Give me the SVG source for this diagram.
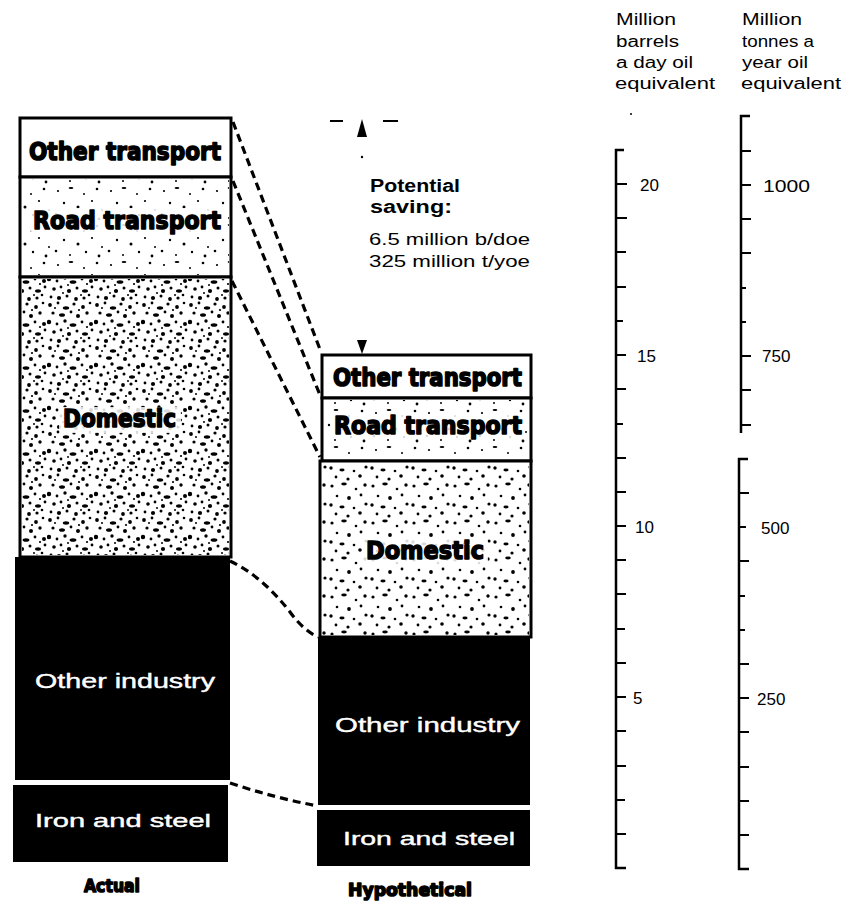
<svg xmlns="http://www.w3.org/2000/svg" width="846" height="916" viewBox="0 0 846 916">
<style>
.heavy{font-family:"DejaVu Sans","Liberation Sans",sans-serif;font-weight:bold;fill:#000;stroke:#000;stroke-width:1.6;stroke-linejoin:round}
.wt{font-family:"Liberation Sans","DejaVu Sans",sans-serif;fill:#fff;stroke:#fff;stroke-width:0.4}
.lbl{font-family:"Liberation Sans","DejaVu Sans",sans-serif;fill:#000}
.lblb{font-family:"Liberation Sans","DejaVu Sans",sans-serif;font-weight:bold;fill:#000}
.box{fill:#fff;stroke:#000;stroke-width:3}
.blk{fill:#000}
.halo{fill:#fff;opacity:0.85}
.dash{fill:none;stroke:#000;stroke-width:3.2;stroke-dasharray:8 5}
.axis{fill:none;stroke:#000;stroke-width:2.5}
.tick{stroke:#000;stroke-width:2}
</style>
<defs>
<pattern id="stipHeavy" width="47" height="43" patternUnits="userSpaceOnUse">
<g fill="#000">
<circle cx="3" cy="4" r="1.9"/><circle cx="11" cy="2" r="1.4"/><ellipse cx="19" cy="7" rx="3.2" ry="1.7"/><circle cx="27" cy="3" r="1.6"/><circle cx="36" cy="6" r="1.9"/><circle cx="43" cy="2" r="1.3"/>
<circle cx="6" cy="12" r="1.6"/><ellipse cx="15" cy="14" rx="3" ry="1.8"/><circle cx="24" cy="11" r="1.4"/><circle cx="31" cy="15" r="2"/><circle cx="40" cy="12" r="1.7"/>
<circle cx="2" cy="21" r="2.2"/><circle cx="10" cy="23" r="1.4"/><circle cx="18" cy="20" r="1.7"/><ellipse cx="26" cy="24" rx="3.4" ry="1.8"/><circle cx="35" cy="21" r="1.4"/><circle cx="44" cy="23" r="2"/>
<circle cx="7" cy="31" r="1.8"/><circle cx="14" cy="29" r="1.4"/><circle cx="22" cy="33" r="2.1"/><circle cx="30" cy="30" r="1.5"/><ellipse cx="38" cy="33" rx="3" ry="1.7"/><circle cx="45" cy="29" r="1.4"/>
<circle cx="4" cy="39" r="1.4"/><circle cx="12" cy="40" r="2.1"/><circle cx="20" cy="38" r="1.5"/><circle cx="29" cy="41" r="1.9"/><circle cx="37" cy="40" r="1.6"/><circle cx="42" cy="37" r="1.3"/>
<circle cx="8" cy="7" r="1"/><circle cx="32" cy="9" r="1.1"/><circle cx="21" cy="27" r="1"/><circle cx="40" cy="26" r="1.1"/><circle cx="16" cy="35" r="1"/><circle cx="34" cy="37" r="1"/>
</g>
</pattern>
<pattern id="stipMid" width="41" height="37" patternUnits="userSpaceOnUse">
<g fill="#000">
<circle cx="4" cy="5" r="1.6"/><ellipse cx="16" cy="3" rx="2.8" ry="1.4"/><circle cx="28" cy="8" r="1.3"/><circle cx="37" cy="4" r="1.7"/>
<circle cx="9" cy="15" r="1.3"/><circle cx="21" cy="17" r="1.9"/><circle cx="33" cy="14" r="1.4"/>
<circle cx="3" cy="24" r="1.7"/><ellipse cx="14" cy="26" rx="2.6" ry="1.4"/><circle cx="26" cy="27" r="1.3"/><circle cx="38" cy="23" r="1.6"/>
<circle cx="8" cy="33" r="1.4"/><circle cx="20" cy="35" r="1.6"/><circle cx="32" cy="32" r="1.8"/>
</g>
</pattern>
<pattern id="stipLight" width="53" height="37" patternUnits="userSpaceOnUse">
<g fill="#000">
<circle cx="5" cy="6" r="1.1"/><ellipse cx="18" cy="3" rx="2.4" ry="1.1"/><circle cx="31" cy="9" r="1"/><circle cx="44" cy="4" r="1.3"/>
<circle cx="11" cy="18" r="1.2"/><circle cx="25" cy="22" r="1.5"/><circle cx="39" cy="16" r="1.1"/><circle cx="49" cy="25" r="1"/>
<circle cx="3" cy="29" r="1.3"/><circle cx="17" cy="33" r="1"/><circle cx="33" cy="30" r="1.2"/><circle cx="46" cy="34" r="1.4"/>
</g>
</pattern>
</defs>
<rect width="846" height="916" fill="#fff"/>

<!-- Actual column -->
<g id="actual-other-transport">
<rect class="box" x="20" y="118" width="211" height="59"/>
<text class="heavy" x="29" y="160" font-size="25" textLength="192" lengthAdjust="spacingAndGlyphs">Other transport</text>
</g>
<g id="actual-road-transport">
<rect class="box" x="20" y="177" width="211" height="100"/>
<rect x="22" y="179" width="207" height="96" fill="url(#stipLight)"/>
<rect class="halo" x="30" y="208" width="193" height="26" rx="4"/>
<text class="heavy" x="33" y="229" font-size="25" textLength="188" lengthAdjust="spacingAndGlyphs">Road transport</text>
</g>
<g id="actual-domestic">
<rect class="box" x="20" y="277" width="211" height="280"/>
<rect x="22" y="279" width="207" height="276" fill="url(#stipHeavy)"/>
<rect class="halo" x="59" y="407" width="122" height="26" rx="4"/>
<text class="heavy" x="63" y="427" font-size="24" textLength="113" lengthAdjust="spacingAndGlyphs">Domestic</text>
</g>
<g id="actual-other-industry">
<rect class="blk" x="15" y="557" width="215" height="223"/>
<text class="wt" x="35" y="688" font-size="20" textLength="180" lengthAdjust="spacingAndGlyphs">Other industry</text>
</g>
<g id="actual-iron-steel">
<rect class="blk" x="13" y="785" width="215" height="77"/>
<text class="wt" x="35" y="827" font-size="19" textLength="176" lengthAdjust="spacingAndGlyphs">Iron and steel</text>
</g>
<g id="actual-label">
<text class="heavy" x="112" y="892" font-size="18" text-anchor="middle" textLength="56" lengthAdjust="spacingAndGlyphs" stroke-width="1.2">Actual</text>
</g>

<!-- Hypothetical column -->
<g id="hyp-other-transport">
<rect class="box" x="322" y="355" width="209" height="43"/>
<text class="heavy" x="333" y="386" font-size="24" textLength="189" lengthAdjust="spacingAndGlyphs">Other transport</text>
</g>
<g id="hyp-road-transport">
<rect class="box" x="322" y="398" width="209" height="63"/>
<rect x="324" y="400" width="205" height="59" fill="url(#stipLight)"/>
<rect class="halo" x="330" y="414" width="195" height="25" rx="4"/>
<text class="heavy" x="334" y="434" font-size="24" textLength="188" lengthAdjust="spacingAndGlyphs">Road transport</text>
</g>
<g id="hyp-domestic">
<rect class="box" x="320" y="461" width="211" height="176"/>
<rect x="322" y="463" width="207" height="172" fill="url(#stipMid)"/>
<rect class="halo" x="362" y="538" width="126" height="27" rx="4"/>
<text class="heavy" x="366" y="559" font-size="25" textLength="118" lengthAdjust="spacingAndGlyphs">Domestic</text>
</g>
<g id="hyp-other-industry">
<rect class="blk" x="318" y="637" width="212" height="168"/>
<text class="wt" x="335" y="732" font-size="20" textLength="185" lengthAdjust="spacingAndGlyphs">Other industry</text>
</g>
<g id="hyp-iron-steel">
<rect class="blk" x="317" y="810" width="213" height="56"/>
<text class="wt" x="343" y="845" font-size="19" textLength="172" lengthAdjust="spacingAndGlyphs">Iron and steel</text>
</g>
<g id="hyp-label">
<text class="heavy" x="410" y="896" font-size="18" text-anchor="middle" textLength="124" lengthAdjust="spacingAndGlyphs" stroke-width="1.2">Hypothetical</text>
</g>

<!-- Connectors -->
<g id="connectors">
<line class="dash" x1="233" y1="122" x2="321" y2="352"/>
<line class="dash" x1="233" y1="181" x2="320" y2="395"/>
<line class="dash" x1="232" y1="281" x2="320" y2="457"/>
<path class="dash" d="M230 561 Q262 576 290 612 Q303 630 318 637"/>
<path class="dash" d="M230 783 Q275 798 318 806"/>
</g>

<!-- Potential saving annotation -->
<g id="saving">
<line x1="330" y1="121" x2="343" y2="121" stroke="#000" stroke-width="2"/>
<line x1="383" y1="121" x2="398" y2="121" stroke="#000" stroke-width="2"/>
<polygon points="362,119 357,137 367,137" fill="#000"/>
<circle cx="362" cy="157" r="1.2" fill="#000"/>
<polygon points="362,354 357,340 367,340" fill="#000"/>
<text class="lblb" x="370" y="192" font-size="18" textLength="90" lengthAdjust="spacingAndGlyphs">Potential</text>
<text class="lblb" x="370" y="213" font-size="18" textLength="82" lengthAdjust="spacingAndGlyphs">saving:</text>
<text class="lbl" x="369" y="245" font-size="17" textLength="161" lengthAdjust="spacingAndGlyphs">6.5 million b/doe</text>
<text class="lbl" x="369" y="267" font-size="17" textLength="161" lengthAdjust="spacingAndGlyphs">325 million t/yoe</text>
</g>

<!-- Barrels scale -->
<g id="scale-barrels">
<text class="lbl" x="616" y="25" font-size="16" textLength="60" lengthAdjust="spacingAndGlyphs">Million</text>
<text class="lbl" x="616" y="47" font-size="16" textLength="63" lengthAdjust="spacingAndGlyphs">barrels</text>
<text class="lbl" x="616" y="68" font-size="16" textLength="77" lengthAdjust="spacingAndGlyphs">a day oil</text>
<text class="lbl" x="615" y="89" font-size="16" textLength="100" lengthAdjust="spacingAndGlyphs">equivalent</text>
<circle cx="631" cy="114" r="1" fill="#000"/>
<path class="axis" d="M624 150 H616 V868 H626"/>
<g class="tick">
<line x1="616" y1="184" x2="627" y2="184"/><line x1="616" y1="218" x2="627" y2="218"/><line x1="616" y1="252" x2="626" y2="252"/><line x1="616" y1="287" x2="626" y2="287"/><line x1="616" y1="321" x2="623" y2="321"/><line x1="616" y1="355" x2="626" y2="355"/><line x1="616" y1="389" x2="626" y2="389"/><line x1="616" y1="424" x2="623" y2="424"/><line x1="616" y1="458" x2="626" y2="458"/><line x1="616" y1="492" x2="626" y2="492"/><line x1="616" y1="526" x2="626" y2="526"/><line x1="616" y1="560" x2="626" y2="560"/><line x1="616" y1="594" x2="626" y2="594"/><line x1="616" y1="629" x2="625" y2="629"/><line x1="616" y1="663" x2="626" y2="663"/><line x1="616" y1="697" x2="626" y2="697"/><line x1="616" y1="731" x2="626" y2="731"/><line x1="616" y1="766" x2="626" y2="766"/><line x1="616" y1="800" x2="625" y2="800"/><line x1="616" y1="834" x2="626" y2="834"/>
</g>
<text class="lbl" x="640" y="191" font-size="17">20</text>
<text class="lbl" x="637" y="362" font-size="17">15</text>
<text class="lbl" x="635" y="533" font-size="17">10</text>
<text class="lbl" x="633" y="704" font-size="17">5</text>
</g>

<!-- Tonnes scale -->
<g id="scale-tonnes">
<text class="lbl" x="742" y="25" font-size="16" textLength="60" lengthAdjust="spacingAndGlyphs">Million</text>
<text class="lbl" x="742" y="47" font-size="16" textLength="72" lengthAdjust="spacingAndGlyphs">tonnes a</text>
<text class="lbl" x="742" y="68" font-size="16" textLength="66" lengthAdjust="spacingAndGlyphs">year oil</text>
<text class="lbl" x="741" y="89" font-size="16" textLength="100" lengthAdjust="spacingAndGlyphs">equivalent</text>
<path class="axis" d="M750 116 H741 V433"/>
<path class="axis" d="M748 459 H739 V869 H749"/>
<g class="tick">
<line x1="741" y1="151" x2="751" y2="151"/><line x1="741" y1="185" x2="751" y2="185"/><line x1="741" y1="219" x2="751" y2="219"/><line x1="741" y1="253" x2="751" y2="253"/><line x1="741" y1="288" x2="746" y2="288"/><line x1="741" y1="322" x2="746" y2="322"/><line x1="741" y1="356" x2="751" y2="356"/><line x1="741" y1="390" x2="751" y2="390"/><line x1="741" y1="425" x2="751" y2="425"/>
<line x1="739" y1="493" x2="749" y2="493"/><line x1="739" y1="527" x2="746" y2="527"/><line x1="739" y1="561" x2="749" y2="561"/><line x1="739" y1="596" x2="745" y2="596"/><line x1="739" y1="630" x2="745" y2="630"/><line x1="739" y1="664" x2="749" y2="664"/><line x1="739" y1="698" x2="749" y2="698"/><line x1="739" y1="732" x2="749" y2="732"/><line x1="739" y1="767" x2="749" y2="767"/><line x1="739" y1="801" x2="749" y2="801"/><line x1="739" y1="835" x2="749" y2="835"/>
</g>
<text class="lbl" x="763" y="192" font-size="17" textLength="47" lengthAdjust="spacingAndGlyphs">1000</text>
<text class="lbl" x="762" y="362" font-size="17">750</text>
<text class="lbl" x="761" y="534" font-size="17">500</text>
<text class="lbl" x="757" y="705" font-size="17">250</text>
</g>
</svg>
